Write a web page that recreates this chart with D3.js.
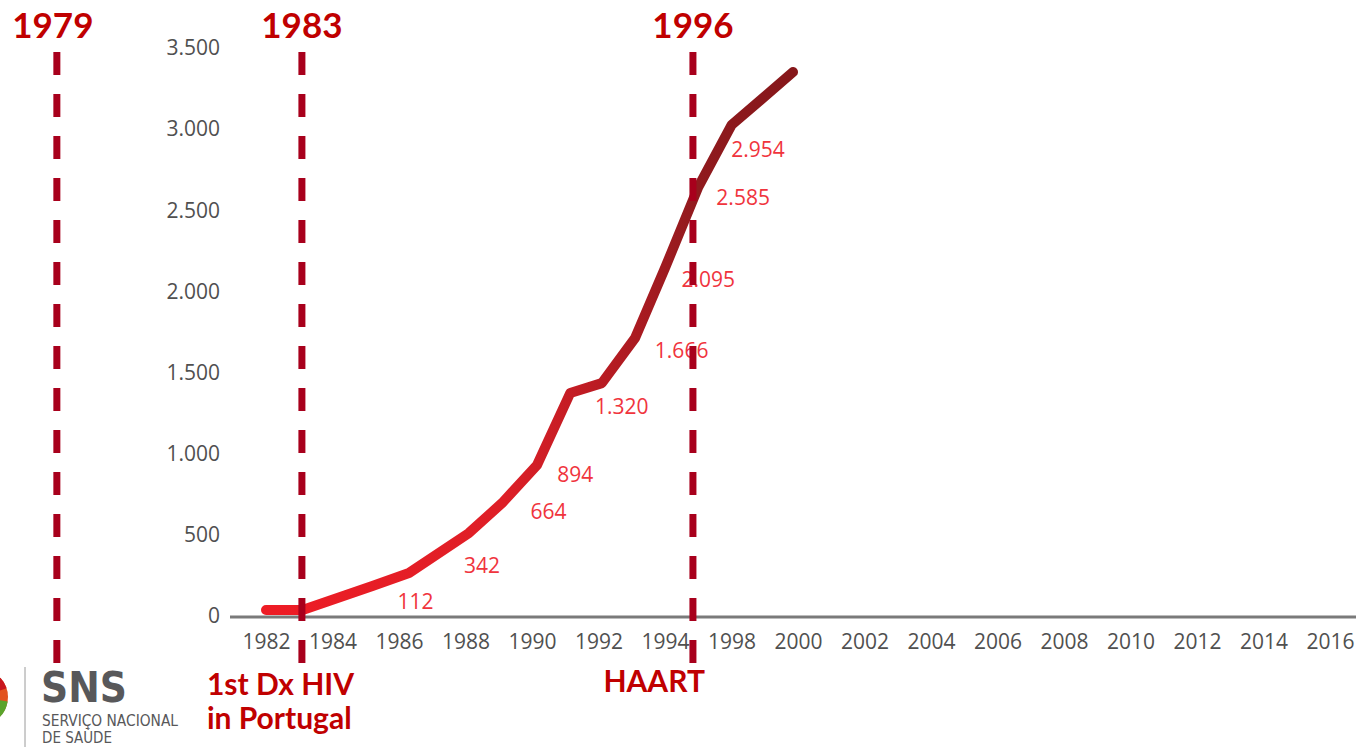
<!DOCTYPE html>
<html>
<head>
<meta charset="utf-8">
<script src="https://cdn.jsdelivr.net/npm/d3@7"></script>
<style>
  body { margin: 0; background: #fff; }
  svg { display: block; }
</style>
</head>
<body>
<svg id="chart" width="1363" height="747"></svg>
<script>
// cumulative line (years, values in cases)
var lineYears  = [1982, 1983.1, 1985.2, 1986.3, 1988.1, 1989.1, 1990.15, 1991.15, 1992.1, 1993.1, 1994.0, 1995.0, 1996.0, 1997.85]
var lineValues = [37, 37, 185, 265, 511, 696, 930, 1374, 1435, 1713, 2144, 2643, 3025, 3352]

// red value labels, anchored at (year, value)
var labelText  = ["112", "342", "664", "894", "1.320", "1.666", "2.095", "2.585", "2.954"]
var labelYears = [1986.5, 1988.5, 1990.5, 1991.3, 1992.7, 1994.5, 1995.3, 1996.35, 1996.8]
var labelVals  = [92, 314, 647, 875, 1294, 1639, 2076, 2582, 2877]

// x axis: a tick every two years, the 1996 label is missing in the original
var tickYears  = d3.range(1982, 2015, 2)
var tickLabels = ["1982","1984","1986","1988","1990","1992","1994","1998","2000","2002","2004","2006","2008","2010","2012","2014","2016"]
var yTicks     = [0, 500, 1000, 1500, 2000, 2500, 3000, 3500]

// dashed milestone lines
var markTitles = ["1979", "1983", "1996"]
var markYears  = [1975.71, 1983.08, 1994.84]

var svg = d3.select("#chart")

var x = d3.scaleLinear().domain([1982, 1998]).range([266, 798])
var y = d3.scaleLinear().domain([0, 3500]).range([616, 48])

var ptFormat = d3.formatLocale({decimal: ",", thousands: ".", grouping: [3], currency: ["", "€"]}).format(",")

// gradient for the line, bright red to dark red
var defs = svg.append("defs")
var grad = defs.append("linearGradient")
    .attr("id", "lineGrad")
    .attr("gradientUnits", "userSpaceOnUse")
    .attr("x1", x(1982)).attr("x2", x(1997.85))
    .attr("y1", 0).attr("y2", 0)
grad.append("stop").attr("offset", "0%").attr("stop-color", "#ee1c25")
grad.append("stop").attr("offset", "45%").attr("stop-color", "#de1f27")
grad.append("stop").attr("offset", "66%").attr("stop-color", "#b41b22")
grad.append("stop").attr("offset", "82%").attr("stop-color", "#901a1e")
grad.append("stop").attr("offset", "100%").attr("stop-color", "#86171a")

// y axis labels
var yAxis = svg.append("g")
    .attr("transform", "translate(232,0)")
    .call(d3.axisLeft(y).tickValues(yTicks).tickSize(0).tickPadding(12).tickFormat(ptFormat))
yAxis.select(".domain").remove()
yAxis.selectAll("text")
    .style("font-family", "'Open Sans', sans-serif")
    .style("font-size", "21px")
    .attr("fill", "#505050")

// baseline
svg.append("line")
    .attr("x1", 230).attr("x2", 1356)
    .attr("y1", y(0) + 1).attr("y2", y(0) + 1)
    .attr("stroke", "#7a7a7a")
    .attr("stroke-width", 3)

// x axis labels
var xAxis = svg.append("g")
    .attr("transform", "translate(0," + (y(0) + 1) + ")")
    .call(d3.axisBottom(x).tickValues(tickYears).tickSize(0).tickPadding(17)
        .tickFormat(function (d, i) { return tickLabels[i]; }))
xAxis.select(".domain").remove()
xAxis.selectAll("text")
    .style("font-family", "'Open Sans', sans-serif")
    .style("font-size", "21px")
    .attr("fill", "#505050")

// the line
var lineData = lineYears.map(function (d, i) { return [d, lineValues[i]]; })
var line = d3.line()
    .x(function (d) { return x(d[0]); })
    .y(function (d) { return y(d[1]); })

svg.append("path")
    .datum(lineData)
    .attr("d", line)
    .attr("fill", "none")
    .attr("stroke", "url(#lineGrad)")
    .attr("stroke-width", 10)
    .attr("stroke-linejoin", "round")
    .attr("stroke-linecap", "round")

// value labels
svg.append("g")
    .selectAll("text")
    .data(labelText)
    .enter()
    .append("text")
    .attr("x", function (d, i) { return x(labelYears[i]); })
    .attr("y", function (d, i) { return y(labelVals[i]); })
    .attr("dy", "0.36em")
    .attr("text-anchor", "middle")
    .style("font-family", "'Open Sans', sans-serif")
    .style("font-size", "21px")
    .attr("fill", "#f0343d")
    .text(function (d) { return d; })

// milestone dashed lines + titles
var marks = svg.append("g")
marks.selectAll("line")
    .data(markYears)
    .enter()
    .append("line")
    .attr("x1", function (d) { return x(d); })
    .attr("x2", function (d) { return x(d); })
    .attr("y1", 52).attr("y2", 664)
    .attr("stroke", "#a8001c")
    .attr("stroke-width", 7)
    .attr("stroke-dasharray", "23,19")

marks.selectAll("text")
    .data(markTitles)
    .enter()
    .append("text")
    .attr("x", function (d, i) { return x(markYears[i]) - (i == 0 ? 4 : 0); })
    .attr("y", 38)
    .attr("text-anchor", "middle")
    .style("font-family", "Lato, sans-serif")
    .style("font-weight", "bold")
    .style("font-size", "35px")
    .attr("fill", "#c00000")
    .text(function (d) { return d; })

// bottom notes
var note = svg.append("g")
    .style("font-family", "Lato, sans-serif")
    .style("font-weight", "bold")
    .style("font-size", "30px")
    .attr("fill", "#c00000")
note.append("text").attr("x", x(markYears[1]) - 95).attr("y", 695).text("1st Dx HIV")
note.append("text").attr("x", x(markYears[1]) - 95).attr("y", 729).text("in Portugal")
note.append("text").attr("x", x(markYears[2]) + 12).attr("y", 692).attr("text-anchor", "end").text("HAART")

// SNS logo
var logo = svg.append("g")
logo.append("circle").attr("cx", -20).attr("cy", 697).attr("r", 28).attr("fill", "#e2531f")
logo.append("path")
    .attr("d", d3.arc().innerRadius(0).outerRadius(28).startAngle(Math.PI * 0.55).endAngle(Math.PI * 0.85)())
    .attr("transform", "translate(-20,697)")
    .attr("fill", "#5aa32b")
logo.append("path")
    .attr("d", d3.arc().innerRadius(0).outerRadius(28).startAngle(Math.PI * 0.1).endAngle(Math.PI * 0.4)())
    .attr("transform", "translate(-20,697)")
    .attr("fill", "#c8161d")
logo.append("line")
    .attr("x1", 25).attr("x2", 25).attr("y1", 667).attr("y2", 747)
    .attr("stroke", "#9a9a9a").attr("stroke-width", 1)
logo.append("text")
    .attr("x", 41).attr("y", 702)
    .attr("textLength", 86)
    .attr("lengthAdjust", "spacingAndGlyphs")
    .style("font-family", "'DejaVu Sans Condensed', 'DejaVu Sans', sans-serif")
    .style("font-weight", "bold")
    .style("font-size", "43px")
    .attr("fill", "#58585a")
    .text("SNS")
logo.append("text")
    .attr("x", 42).attr("y", 726)
    .attr("textLength", 136)
    .attr("lengthAdjust", "spacingAndGlyphs")
    .style("font-family", "'DejaVu Sans Condensed', 'DejaVu Sans', sans-serif")
    .style("font-size", "15px")
    .attr("fill", "#58585a")
    .text("SERVIÇO NACIONAL")
logo.append("text")
    .attr("x", 42).attr("y", 743)
    .attr("textLength", 70)
    .attr("lengthAdjust", "spacingAndGlyphs")
    .style("font-family", "'DejaVu Sans Condensed', 'DejaVu Sans', sans-serif")
    .style("font-size", "15px")
    .attr("fill", "#58585a")
    .text("DE SAÚDE")
</script>
</body>
</html>
